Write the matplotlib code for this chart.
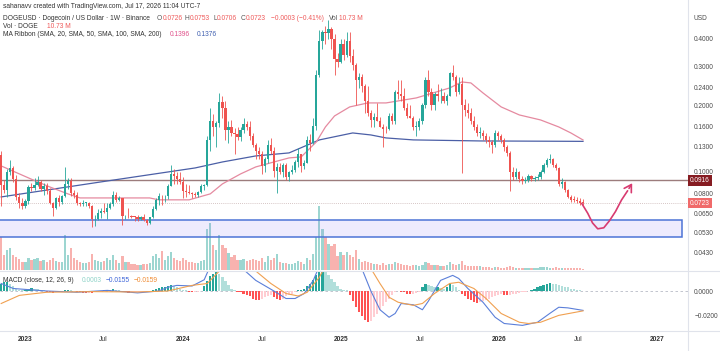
import datetime as dt
import numpy as np
import matplotlib
matplotlib.use("Agg")
import matplotlib.pyplot as plt
import matplotlib.dates as mdates
import matplotlib.transforms as mtransforms
from matplotlib.patches import Rectangle
from matplotlib.ticker import NullLocator

plt.rcParams['font.family'] = ['Liberation Sans', 'DejaVu Sans']

# ---------------- data (weekly DOGEUSD, first candle week of 2022-11-07) ----------------
start_date = "2022-11-07"
first_open = 0.1196
closes = [0.0870, 0.0825, 0.1000, 0.1040, 0.0925, 0.0770, 0.0725, 0.0700, 0.0740, 0.0855,
          0.0850, 0.0875, 0.0900, 0.0835, 0.0865, 0.0820, 0.0720, 0.0690, 0.0760, 0.0730,
          0.0775, 0.0880, 0.0910, 0.0805, 0.0785, 0.0725, 0.0715, 0.0722, 0.0725, 0.0705,
          0.0610, 0.0612, 0.0655, 0.0665, 0.0660, 0.0690, 0.0715, 0.0785, 0.0745, 0.0760,
          0.0630, 0.0633, 0.0630, 0.0626, 0.0625, 0.0613, 0.0624, 0.0607, 0.0590, 0.0623,
          0.0683, 0.0748, 0.0780, 0.0775, 0.0780, 0.0868, 0.0980, 0.0955, 0.0930, 0.0900,
          0.0820, 0.0810, 0.0805, 0.0795, 0.0790, 0.0810, 0.0860, 0.0870, 0.1400, 0.1700,
          0.1600, 0.1660, 0.2080, 0.1950, 0.1550, 0.1600, 0.1500, 0.1480, 0.1440, 0.1550,
          0.1650, 0.1600, 0.1450, 0.1320, 0.1250, 0.1200, 0.1060, 0.1150, 0.1330, 0.1250,
          0.1010, 0.1050, 0.1000, 0.1070, 0.0950, 0.1000, 0.1020, 0.1110, 0.1200, 0.1060,
          0.1100, 0.1400, 0.1350, 0.1620, 0.2750, 0.3900, 0.4300, 0.4250, 0.4450, 0.4000,
          0.3250, 0.3150, 0.3800, 0.3400, 0.3900, 0.3350, 0.3050, 0.2600, 0.2700, 0.2450,
          0.2100, 0.1850, 0.1720, 0.1780, 0.1700, 0.1600, 0.1570, 0.1560, 0.1800, 0.1700,
          0.2300, 0.2250, 0.2200, 0.1950, 0.1800, 0.1750, 0.1600, 0.1600, 0.1700, 0.2000,
          0.2600, 0.2300, 0.2000, 0.2250, 0.2200, 0.2200, 0.2100, 0.2200, 0.2800, 0.2700,
          0.2300, 0.2500, 0.2000, 0.1900, 0.1850, 0.1700, 0.1600, 0.1500, 0.1500, 0.1450,
          0.1400, 0.1360, 0.1320, 0.1500, 0.1450, 0.1400, 0.1300, 0.1220, 0.1000, 0.0950,
          0.1000, 0.0930, 0.0910, 0.0920, 0.0960, 0.0930, 0.0940, 0.0950, 0.1000, 0.1070,
          0.1130, 0.1140, 0.1080, 0.1040, 0.0880, 0.0900, 0.0830, 0.0770, 0.0750, 0.0745,
          0.0740, 0.0726, 0.0723]
highs = [0.1245, 0.0920, 0.1030, 0.1130, 0.1060, 0.0965, 0.0800, 0.0765, 0.0755, 0.0870,
         0.0890, 0.0940, 0.0955, 0.0920, 0.0895, 0.0890, 0.0845, 0.0735, 0.0770, 0.0790,
         0.0790, 0.1050, 0.0935, 0.0940, 0.0825, 0.0810, 0.0735, 0.0745, 0.0735, 0.0735,
         0.0710, 0.0640, 0.0680, 0.0690, 0.0720, 0.0725, 0.0730, 0.0820, 0.0810, 0.0775,
         0.0765, 0.0640, 0.0690, 0.0640, 0.0635, 0.0637, 0.0632, 0.0645, 0.0612, 0.0628,
         0.0700, 0.0760, 0.0800, 0.0790, 0.0790, 0.0880, 0.1070, 0.1030, 0.0995, 0.1000,
         0.0950, 0.0880, 0.0870, 0.0815, 0.0815, 0.0820, 0.0880, 0.0880, 0.1450, 0.1950,
         0.1830, 0.1700, 0.2280, 0.2200, 0.2100, 0.1700, 0.1720, 0.1580, 0.1600, 0.1600,
         0.1750, 0.1700, 0.1700, 0.1500, 0.1350, 0.1300, 0.1250, 0.1170, 0.1400, 0.1420,
         0.1300, 0.1100, 0.1100, 0.1100, 0.1100, 0.1010, 0.1070, 0.1130, 0.1280, 0.1200,
         0.1130, 0.1450, 0.1480, 0.1750, 0.2900, 0.4400, 0.4400, 0.4600, 0.4850, 0.4550,
         0.4200, 0.3450, 0.4000, 0.4000, 0.4300, 0.4300, 0.3600, 0.3100, 0.2800, 0.2780,
         0.2500, 0.2450, 0.1900, 0.1850, 0.2050, 0.1780, 0.1650, 0.1620, 0.1850, 0.1850,
         0.2350, 0.2600, 0.2600, 0.2400, 0.2050, 0.2000, 0.1800, 0.1700, 0.1750, 0.2050,
         0.2700, 0.2900, 0.2400, 0.2300, 0.2500, 0.2400, 0.2300, 0.2250, 0.2850, 0.3050,
         0.2750, 0.2700, 0.2700, 0.2150, 0.2050, 0.1950, 0.1800, 0.1650, 0.1600, 0.1550,
         0.1500, 0.1450, 0.1400, 0.1550, 0.1530, 0.1480, 0.1420, 0.1320, 0.1240, 0.1050,
         0.1040, 0.1010, 0.0960, 0.0950, 0.0980, 0.0970, 0.0960, 0.0980, 0.1020, 0.1100,
         0.1160, 0.1200, 0.1160, 0.1100, 0.1050, 0.0940, 0.0910, 0.0840, 0.0790, 0.0775,
         0.0770, 0.0760, 0.0753]
lows = [0.0705, 0.0800, 0.0770, 0.0970, 0.0900, 0.0745, 0.0690, 0.0680, 0.0690, 0.0715,
        0.0820, 0.0830, 0.0865, 0.0820, 0.0790, 0.0795, 0.0715, 0.0630, 0.0680, 0.0705,
        0.0715, 0.0770, 0.0840, 0.0775, 0.0760, 0.0710, 0.0700, 0.0705, 0.0700, 0.0685,
        0.0565, 0.0570, 0.0605, 0.0620, 0.0650, 0.0615, 0.0680, 0.0700, 0.0735, 0.0740,
        0.0575, 0.0612, 0.0618, 0.0617, 0.0600, 0.0602, 0.0605, 0.0602, 0.0578, 0.0582,
        0.0619, 0.0672, 0.0712, 0.0712, 0.0730, 0.0758, 0.0860, 0.0880, 0.0880, 0.0880,
        0.0765, 0.0770, 0.0795, 0.0760, 0.0770, 0.0770, 0.0800, 0.0830, 0.0860, 0.1250,
        0.1450, 0.1300, 0.1600, 0.1750, 0.1400, 0.1350, 0.1450, 0.1200, 0.1400, 0.1380,
        0.1500, 0.1550, 0.1400, 0.1300, 0.1150, 0.1150, 0.0980, 0.1000, 0.1100, 0.1200,
        0.0950, 0.0800, 0.0980, 0.0950, 0.0920, 0.0910, 0.0980, 0.1000, 0.1050, 0.1000,
        0.1030, 0.1100, 0.1250, 0.1340, 0.1550, 0.2700, 0.3600, 0.3800, 0.4000, 0.3600,
        0.2750, 0.3000, 0.3100, 0.3200, 0.3300, 0.3150, 0.2900, 0.2000, 0.2400, 0.2300,
        0.1850, 0.1800, 0.1600, 0.1600, 0.1700, 0.1600, 0.1300, 0.1500, 0.1550, 0.1650,
        0.1650, 0.2150, 0.2100, 0.1900, 0.1750, 0.1750, 0.1550, 0.1450, 0.1550, 0.1650,
        0.1950, 0.2200, 0.1900, 0.1900, 0.2100, 0.2050, 0.2050, 0.2000, 0.2200, 0.2600,
        0.2200, 0.2250, 0.0990, 0.1800, 0.1750, 0.1650, 0.1550, 0.1450, 0.1420, 0.1400,
        0.1350, 0.1300, 0.1220, 0.1300, 0.1400, 0.1350, 0.1250, 0.1180, 0.0820, 0.0920,
        0.0930, 0.0900, 0.0880, 0.0890, 0.0900, 0.0910, 0.0915, 0.0920, 0.0930, 0.0990,
        0.1050, 0.1100, 0.1050, 0.1020, 0.0860, 0.0850, 0.0810, 0.0760, 0.0735, 0.0730,
        0.0720, 0.0710, 0.0706]
volumes = [33, 15, 20, 22, 15, 13, 11, 8,
           8, 12, 10, 11, 12, 9, 10, 8, 10, 12, 9, 8, 8,
           35, 15, 22, 12, 10, 8, 7, 7, 8,
           16, 10, 9, 8, 9, 12, 10, 15, 10, 7, 14,
           8, 8, 6, 6, 5, 5, 6, 6, 7,
           14, 16, 12, 19, 10, 14, 18, 12, 10, 9,
           12, 10, 8, 8, 7, 7, 9, 10,
           41, 47, 25, 20, 35, 25, 22, 17, 13, 15,
           10, 10, 11, 9, 10, 11, 10, 9, 12, 8,
           14, 10, 12, 16, 8, 7, 7, 6, 6, 7, 9, 8, 6,
           12, 10, 16, 33, 64, 41, 33, 26, 24, 26,
           14, 18, 15, 18, 15, 13, 20, 11,
           8, 9, 8, 7, 6, 6, 5, 7, 5, 6, 6, 8, 7, 6, 5, 5, 4, 5, 5, 4,
           5, 8, 7, 5, 5, 5, 4, 4, 5, 8, 6, 5, 6, 9, 5, 4, 4, 4, 4, 4,
           3, 3, 3, 2, 3, 3, 2, 2, 3, 4, 3, 2, 2, 2, 2, 2, 2, 2, 2, 3,
           3, 3, 2, 2, 3, 2, 2, 2, 2, 2, 2, 2, 2, 1.5]
macd_hist = [0.006, 0.007, 0.007, 0.006,
             0.004, 0.002, 0.001, 0.0005, 0.001,
             0.002, 0.0025, 0.002, 0.0015, 0.001, 0.0005,
             -0.0005, -0.001, -0.0015, -0.001, -0.0008, -0.0005,
             0.0005, 0.001, 0.0005, 0.0,
             -0.0005, -0.001, -0.0012, -0.0015, -0.0012, -0.0015, -0.001, -0.0008, -0.0005,
             0.0005, 0.0008, 0.001, 0.0015, 0.001, 0.0005, -0.0005,
             -0.001, -0.0012, -0.001, -0.0008, -0.0006, -0.0005, -0.0004, -0.0003, 0.0002,
             0.001, 0.002, 0.0025, 0.003, 0.0035, 0.004, 0.0045, 0.004, 0.003,
             0.002, 0.0012, 0.0005, -0.0005, -0.0008,
             -0.0006, -0.0004, 0.0002,
             0.004, 0.008, 0.012, 0.014, 0.015,
             0.014, 0.011, 0.008, 0.005, 0.002,
             0.0005, -0.0005, -0.001,
             -0.002, -0.003, -0.004, -0.006, -0.007, -0.0075, -0.006,
             -0.005, -0.004, -0.0035, -0.005,
             -0.0065, -0.007, -0.006, -0.004,
             -0.003, -0.002, -0.001, 0.0005,
             0.001, 0.002, 0.004,
             0.006, 0.009, 0.013, 0.017, 0.018, 0.016,
             0.013, 0.010, 0.007, 0.004, 0.002,
             0.001, 0.0005,
             -0.003, -0.008, -0.013, -0.017, -0.020, -0.023, -0.025,
             -0.024, -0.021, -0.018, -0.015, -0.012, -0.009, -0.006, -0.003,
             -0.001, 0.0003, -0.0005, -0.001,
             -0.002, -0.0025, -0.002, -0.0015,
             -0.0005, 0.003, 0.006, 0.005, 0.004,
             0.003, 0.003, 0.0025, 0.002, 0.003,
             0.006, 0.005, 0.003,
             0.001,
             -0.002, -0.004, -0.006, -0.0075, -0.009, -0.0095, -0.009, -0.008,
             -0.007, -0.006, -0.005, -0.004, -0.003, -0.0025, -0.003,
             -0.0035, -0.003, -0.0025, -0.002,
             -0.0015, -0.001, -0.0005, 0.0003, 0.001, 0.002,
             0.003, 0.004, 0.005, 0.006, 0.0065,
             0.006, 0.0055, 0.005, 0.004, 0.0035, 0.003, 0.002, 0.0015, 0.001, 0.0006, 0.0003]
# MACD / signal lines read at sample weeks (week index from first candle)
macd_weeks = [0, 4, 15, 25, 35, 45, 52, 55, 58, 63, 67, 69, 71, 76, 81, 84, 90, 94, 97, 100,
              103, 105, 108, 112, 116, 119, 122, 125, 128, 130, 132, 136, 139, 141, 145, 149,
              151, 154, 159, 163, 166, 172, 177, 181, 184, 187, 192]
macd_line = [0.006, 0.002, 0.0, -0.001, 0.0005, -0.0015, 0.0, 0.003, 0.0045, 0.004, 0.009,
             0.020, 0.028, 0.025, 0.015, 0.0085, 0.0, -0.006, -0.006, -0.002,
             0.0085, 0.020, 0.040, 0.045, 0.035, 0.018, 0.0, -0.015, -0.021, -0.018,
             -0.010, -0.011, -0.015, -0.008, 0.0085, 0.0125, 0.010, 0.002, -0.009, -0.021,
             -0.026, -0.0275, -0.025, -0.018, -0.013, -0.0135, -0.0155]
signal_weeks = [0, 6, 15, 30, 45, 55, 63, 68, 72, 78, 84, 89, 94, 98, 101, 105, 108, 115,
                122, 125, 128, 131, 136, 139, 143, 148, 151, 156, 160, 165, 171, 174, 178,
                184, 192]
signal_line = [-0.010, -0.0035, -0.001, -0.0005, -0.0008, 0.0, 0.0045, 0.006, 0.016, 0.028,
               0.016, 0.006, -0.002, -0.004, -0.001, 0.011, 0.025, 0.040, 0.018, 0.006,
               -0.005, -0.009, -0.0115, -0.010, -0.002, 0.006, 0.007, 0.002, -0.006, -0.018,
               -0.025, -0.026, -0.025, -0.0195, -0.0159]
# MA ribbon lines read at sample weeks
ma50_weeks = [0, 10.5, 16, 22, 26, 33, 49, 52, 62, 69, 73, 79, 84, 90, 95, 99, 104, 107,
              110, 115, 121, 127, 137, 148, 152, 155, 159, 165, 171, 178, 184, 188, 192]
ma50_vals = [0.1065, 0.0921, 0.0856, 0.0796, 0.0763, 0.0763, 0.0763, 0.0748, 0.0748, 0.0796,
             0.0883, 0.0980, 0.1054, 0.1110, 0.1158, 0.1170, 0.1368, 0.1599, 0.1793, 0.1970,
             0.2054, 0.2054, 0.2164, 0.2401, 0.2556, 0.2530, 0.2279, 0.1970, 0.1812, 0.1720,
             0.1599, 0.1502, 0.1396]
ma200_weeks = [0, 33, 64, 73, 84, 95, 105, 116, 122, 127, 136, 158, 192]
ma200_vals = [0.0771, 0.0902, 0.1043, 0.1110, 0.1182, 0.1220, 0.1397, 0.1502, 0.1471, 0.1426,
              0.1397, 0.1382, 0.1376]
price_ticks = [0.4, 0.3, 0.24, 0.2, 0.16, 0.13, 0.1, 0.08, 0.065, 0.053, 0.043]
macd_ticks = [0.0, -0.02]
time_ticks = ["2023-01-01", "2023-07-01", "2024-01-01", "2024-07-01", "2025-01-01",
              "2025-07-01", "2026-01-01", "2026-07-01", "2027-01-01"]
time_labels = ["2023", "Jul", "2024", "Jul", "2025", "Jul", "2026", "Jul", "2027"]
hline_level = 0.0916
last_price = 0.0723
zone_low, zone_high = 0.0507, 0.0607
zone_start, zone_end = "2022-10-01", "2027-02-26"
arrow_dates = ["2026-07-10", "2026-07-24", "2026-08-04", "2026-08-16", "2026-08-30",
               "2026-09-12", "2026-09-26", "2026-10-10", "2026-10-24", "2026-11-07"]
arrow_prices = [0.0721, 0.0650, 0.0588, 0.0553, 0.0559, 0.0601, 0.0662, 0.0747, 0.0822, 0.0912]

n = len(closes)
assert len(highs) == n and len(lows) == n and len(volumes) == n and len(macd_hist) == n

# ---------------- figure / layout ----------------
W, H = 720, 351
fig = plt.figure(figsize=(W / 100, H / 100), dpi=100)
fig.patch.set_facecolor('white')


def fx(px):
    return px / W


def fy(py):
    return 1 - py / H


PR = 688  # right edge of plotting panes
ax = fig.add_axes([0, fy(270), fx(PR), 270 / H])
axv = fig.add_axes([0, fy(270), fx(PR), 270 / H], sharex=ax)
axm = fig.add_axes([0, fy(331), fx(PR), (331 - 271) / H], sharex=ax)
axv.set_zorder(0)
ax.set_zorder(1)
ax.patch.set_alpha(0)

d0 = dt.datetime.strptime(start_date, "%Y-%m-%d")
xd = mdates.date2num([d0 + dt.timedelta(weeks=i) for i in range(n)])
o = np.array([first_open] + closes[:-1])
c = np.array(closes)
hi = np.array(highs)
lo = np.array(lows)
up = c >= o
UP, DN = '#26a69a', '#ef5350'
cols = np.where(up, UP, DN)
BW = 5.2  # bar width in days

base = mdates.date2num(dt.datetime(2024, 1, 1))
pxday = 0.4329
ax.set_xlim(base - 183 / pxday, base + (PR - 183) / pxday)

# volume
axv.bar(xd, volumes, width=BW, color=[(0.15, 0.65, 0.60, 0.45) if u else (0.94, 0.33, 0.31, 0.45) for u in up],
        linewidth=0)
axv.set_ylim(0, 270)
axv.axis('off')

# zone box
zs = mdates.date2num(dt.datetime.strptime(zone_start, "%Y-%m-%d"))
ze = mdates.date2num(dt.datetime.strptime(zone_end, "%Y-%m-%d"))
ax.add_patch(Rectangle((zs, zone_low), ze - zs, zone_high - zone_low, facecolor=(0.55, 0.45, 0.95, 0.14),
                       edgecolor='#4d74d6', linewidth=1.1, zorder=1))

# horizontal level + last price line
ax.axhline(hline_level, color='#9c7c7c', lw=1.0, zorder=2)
ax.axhline(last_price, color='#c9b3b3', lw=0.6, ls=(0, (1, 1.5)), zorder=2)

# MA lines
ma_x = lambda w: mdates.date2num([d0 + dt.timedelta(days=7 * v) for v in w])
ax.plot(ma_x(ma200_weeks), ma200_vals, color='#4b5fa6', lw=0.9, zorder=3)
ax.plot(ma_x(ma50_weeks), ma50_vals, color='#e58aa0', lw=0.9, zorder=3)

# candles
ax.vlines(xd, lo, hi, colors=cols, lw=0.6, zorder=4)
body_lo = np.minimum(o, c)
body_h = np.maximum(np.abs(c - o), body_lo * 0.008)
ax.bar(xd, body_h, bottom=body_lo, width=BW, color=cols, linewidth=0, zorder=5)

# arrow
ad = mdates.date2num([dt.datetime.strptime(s, "%Y-%m-%d") for s in arrow_dates])
ax.plot(ad[:-1], arrow_prices[:-1], color='#d83b70', lw=1.2, zorder=6, solid_capstyle='round')
ax.annotate('', xy=(ad[-1], arrow_prices[-1]), xytext=(ad[-2], arrow_prices[-2]),
            arrowprops=dict(arrowstyle='->,head_length=0.5,head_width=0.3', color='#d83b70', lw=1.2),
            zorder=6)

ax.set_yscale('log')
ax.set_ylim(0.0360, 0.6005)
ax.yaxis.tick_right()
ax.set_yticks(price_ticks)
ax.set_yticklabels([f"{v:.4f}" for v in price_ticks])
ax.yaxis.set_minor_locator(NullLocator())
ax.tick_params(axis='y', length=0, pad=4.5, labelsize=4.7, labelcolor='#4a4a4a')
ax.tick_params(axis='x', length=0, labelbottom=False)
for s in ['top', 'left', 'bottom', 'right']:
    ax.spines[s].set_visible(False)

# MACD pane
hist = np.array(macd_hist)
prev = np.concatenate([[hist[0]], hist[:-1]])
hcols = []
for h, p in zip(hist, prev):
    if h >= 0:
        hcols.append('#26a69a' if h >= p else '#b2dfdb')
    else:
        hcols.append('#ff5252' if h < p else '#ffcdd2')
axm.axhline(0, color='#b8bcc6', lw=0.6, ls=(0, (3, 3)), zorder=1)
axm.bar(xd, hist, width=BW, color=hcols, linewidth=0, zorder=2)
axm.plot(ma_x(macd_weeks), macd_line, color='#5b7fd9', lw=0.8, zorder=3)
axm.plot(ma_x(signal_weeks), signal_line, color='#f0a050', lw=0.8, zorder=3)
axm.set_ylim(-0.032, 0.016)
axm.yaxis.tick_right()
axm.set_yticks(macd_ticks)
axm.set_yticklabels(["0.0000", "\u22120.0200"])
axm.tick_params(axis='y', length=0, pad=4.5, labelsize=4.7, labelcolor='#4a4a4a')
tt = mdates.date2num([dt.datetime.strptime(s, "%Y-%m-%d") for s in time_ticks])
axm.set_xticks(tt)
axm.set_xticklabels(time_labels)
axm.tick_params(axis='x', length=0, pad=3.5, labelsize=4.8, labelcolor='#333333')
for lab, txt in zip(axm.get_xticklabels(), time_labels):
    lab.set_fontweight('bold' if txt != 'Jul' else 'normal')
for s in ['top', 'left', 'bottom', 'right']:
    axm.spines[s].set_visible(False)
axm.patch.set_alpha(0)

# separators
sep = '#e0e3eb'
fig.add_artist(plt.Line2D([fx(PR), fx(PR)], [0, 1], color=sep, lw=0.8))
fig.add_artist(plt.Line2D([0, 1], [fy(270.5), fy(270.5)], color=sep, lw=0.8))
fig.add_artist(plt.Line2D([0, 1], [fy(331), fy(331)], color=sep, lw=0.8))

# price label boxes
btr = mtransforms.blended_transform_factory(fig.transFigure, ax.transData)
fig.text(fx(690), hline_level, f"{hline_level:.4f}", transform=btr, color='white', fontsize=4.7,
         va='center', ha='left', bbox=dict(boxstyle='square,pad=0.28', fc='#861c22', ec='none'))
fig.text(fx(690), last_price, f"{last_price:.4f}", transform=btr, color='white', fontsize=4.7,
         va='center', ha='left', bbox=dict(boxstyle='square,pad=0.28', fc='#f06a6a', ec='none'))
fig.text(fx(693), fy(19), "USD", color='#4a4a4a', fontsize=4.7, va='center', ha='left')

# header texts
fig.canvas.draw()
renderer = fig.canvas.get_renderer()


def put(x_px, y_px, s, col, size=4.8):
    t = fig.text(fx(x_px), fy(y_px), s, color=col, fontsize=size, va='center', ha='left')
    return x_px + t.get_window_extent(renderer).width


RED = '#ef5a5a'
GR = '#555555'
DK = '#333333'
put(3, 6, "sahanavv created with TradingView.com, Jul 17, 2026 11:04 UTC-7", DK)
put(3, 19, "DOGEUSD \u00b7 Dogecoin / US Dollar \u00b7 1W \u00b7 Binance", DK)
xe = 0
for xp, lab, val in [(157, "O", "0.0726"), (185, "H", "0.0753"), (213, "L", "0.0706"), (241, "C", "0.0723")]:
    xl = put(xp, 19, lab, GR)
    xe = put(xl + 0.5, 19, val, RED)
xe = put(xe + 5, 19, "\u22120.0003 (\u22120.41%)", RED)
xe = put(xe + 5, 19, "Vol", GR)
put(xe + 0.5, 19, "10.73 M", RED)
put(3, 27, "Vol \u00b7 DOGE", DK)
put(47, 27, "10.73 M", RED)
put(3, 35, "MA Ribbon (SMA, 20, SMA, 50, SMA, 100, SMA, 200)", DK)
put(170, 35, "0.1396", '#e0508a')
put(197, 35, "0.1376", '#3f5fb0')
put(3, 281, "MACD (close, 12, 26, 9)", DK)
put(82, 281, "0.0003", '#8fd3c8')
put(106, 281, "\u22120.0155", '#3b63d8')
put(134, 281, "\u22120.0159", '#f08a30')

fig.savefig('out.png', dpi=100, facecolor='white')
